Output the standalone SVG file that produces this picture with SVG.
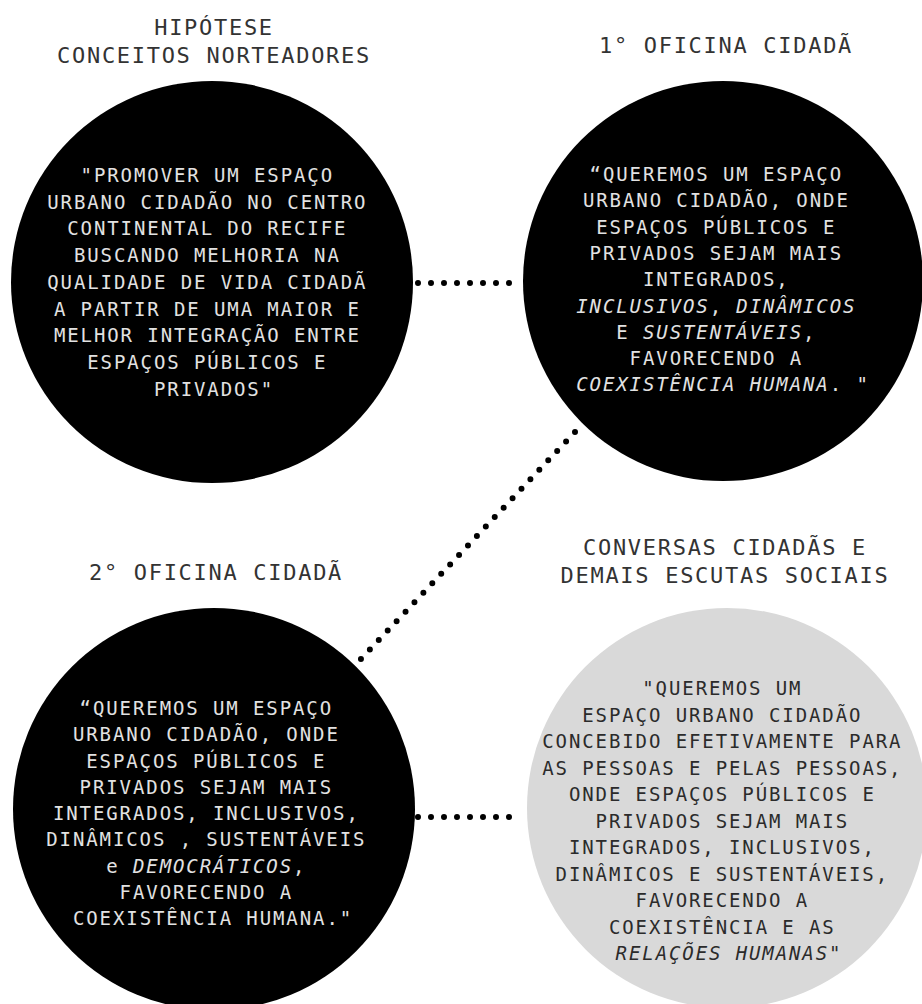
<svg xmlns="http://www.w3.org/2000/svg" width="922" height="1004" viewBox="0 0 922 1004">
<style>
.title{font-family:"DejaVu Sans Mono","Liberation Mono",monospace;font-size:22px;letter-spacing:1.7px;fill:#333;text-anchor:middle}
.body{font-family:"DejaVu Sans Mono","Liberation Mono",monospace;font-size:19px;letter-spacing:1.9px;text-anchor:middle}
.light{fill:#e2e2e2}
.dark{fill:#2b2b2b}
.it{font-style:italic}
.dots{stroke:#000;stroke-width:6;stroke-linecap:round;stroke-dasharray:0 13;fill:none}
</style>
<rect width="922" height="1004" fill="#fff"/>
<g id="connectors">
<line class="dots" x1="418" y1="283" x2="518" y2="283"/>
<line class="dots" x1="575" y1="432" x2="360" y2="660"/>
<line class="dots" x1="418" y1="817" x2="518" y2="817"/>
</g>
<g id="hipotese">
<text class="title" x="214" y="35">HIPÓTESE</text>
<text class="title" x="214" y="63">CONCEITOS NORTEADORES</text>
<circle cx="212" cy="282" r="201" fill="#000"/>
<text class="body light" x="214">
<tspan x="214" y="182">"PROMOVER UM ESPAÇO</tspan>
<tspan x="214" y="208.7">URBANO CIDADÃO NO CENTRO</tspan>
<tspan x="214" y="235.4">CONTINENTAL DO RECIFE</tspan>
<tspan x="214" y="262.1">BUSCANDO MELHORIA NA</tspan>
<tspan x="214" y="288.8">QUALIDADE DE VIDA CIDADÃ</tspan>
<tspan x="214" y="315.5">A PARTIR DE UMA MAIOR E</tspan>
<tspan x="214" y="342.2">MELHOR INTEGRAÇÃO ENTRE</tspan>
<tspan x="214" y="368.9">ESPAÇOS PÚBLICOS E</tspan>
<tspan x="214" y="395.6">PRIVADOS"</tspan>
</text>
</g>
<g id="oficina1">
<text class="title" x="726" y="53">1° OFICINA CIDADÃ</text>
<circle cx="723" cy="281" r="200" fill="#000"/>
<text class="body light">
<tspan x="723" y="181">“QUEREMOS UM ESPAÇO</tspan>
<tspan x="723" y="207.3">URBANO CIDADÃO, ONDE</tspan>
<tspan x="723" y="233.6">ESPAÇOS PÚBLICOS E</tspan>
<tspan x="723" y="259.9">PRIVADOS SEJAM MAIS</tspan>
<tspan x="723" y="286.2">INTEGRADOS,</tspan>
<tspan x="723" y="312.5"><tspan class="it">INCLUSIVOS</tspan>, <tspan class="it">DINÂMICOS</tspan></tspan>
<tspan x="723" y="338.8">E <tspan class="it">SUSTENTÁVEIS</tspan>,</tspan>
<tspan x="723" y="365.1">FAVORECENDO A</tspan>
<tspan x="723" y="391.4"><tspan class="it">COEXISTÊNCIA HUMANA</tspan>. "</tspan>
</text>
</g>
<g id="oficina2">
<text class="title" x="216" y="580">2° OFICINA CIDADÃ</text>
<circle cx="214" cy="809" r="201" fill="#000"/>
<text class="body light">
<tspan x="213" y="715">“QUEREMOS UM ESPAÇO</tspan>
<tspan x="213" y="741.3">URBANO CIDADÃO, ONDE</tspan>
<tspan x="213" y="767.5">ESPAÇOS PÚBLICOS E</tspan>
<tspan x="213" y="793.8">PRIVADOS SEJAM MAIS</tspan>
<tspan x="213" y="820">INTEGRADOS, INCLUSIVOS,</tspan>
<tspan x="213" y="846.3">DINÂMICOS , SUSTENTÁVEIS</tspan>
<tspan x="213" y="872.5">e <tspan class="it">DEMOCRÁTICOS</tspan>,</tspan>
<tspan x="213" y="898.8">FAVORECENDO A</tspan>
<tspan x="213" y="925">COEXISTÊNCIA HUMANA."</tspan>
</text>
</g>
<g id="conversas">
<text class="title" x="725" y="555">CONVERSAS CIDADÃS E</text>
<text class="title" x="725" y="583">DEMAIS ESCUTAS SOCIAIS</text>
<circle cx="727" cy="808" r="200" fill="#d9d9d9"/>
<text class="body dark">
<tspan x="729" y="695">"QUEREMOS UM</tspan>
<tspan x="729" y="721.5">ESPAÇO URBANO CIDADÃO</tspan>
<tspan x="729" y="748">CONCEBIDO EFETIVAMENTE PARA</tspan>
<tspan x="729" y="774.5">AS PESSOAS E PELAS PESSOAS,</tspan>
<tspan x="729" y="801">ONDE ESPAÇOS PÚBLICOS E</tspan>
<tspan x="729" y="827.5">PRIVADOS SEJAM MAIS</tspan>
<tspan x="729" y="854">INTEGRADOS, INCLUSIVOS,</tspan>
<tspan x="729" y="880.5">DINÂMICOS E SUSTENTÁVEIS,</tspan>
<tspan x="729" y="907">FAVORECENDO A</tspan>
<tspan x="729" y="933.5">COEXISTÊNCIA E AS</tspan>
<tspan x="729" y="960"><tspan class="it">RELAÇÕES HUMANAS</tspan>"</tspan>
</text>
</g>
</svg>
